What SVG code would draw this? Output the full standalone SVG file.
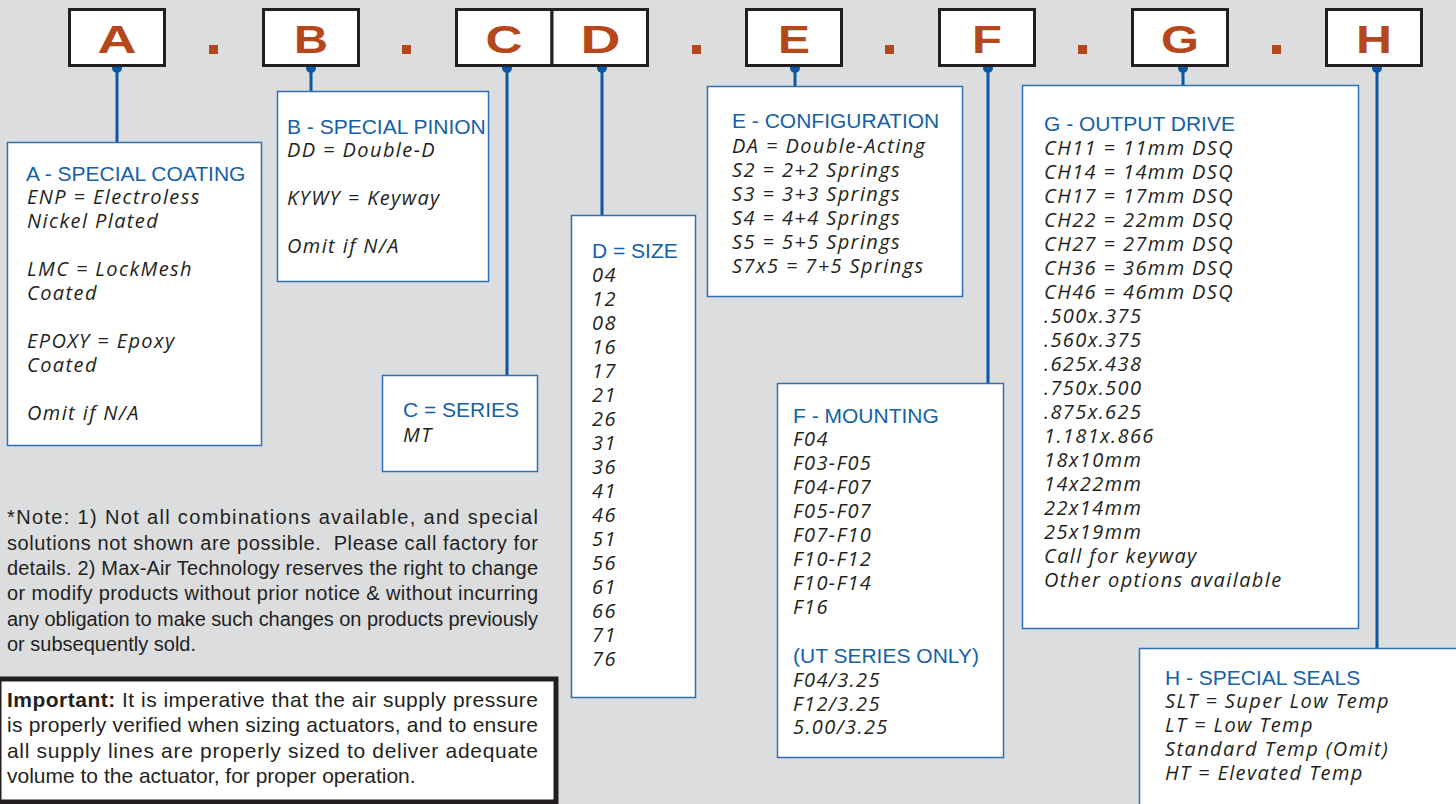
<svg xmlns="http://www.w3.org/2000/svg" width="1456" height="804" viewBox="0 0 1456 804">
<style>
.key{fill:#fff;stroke:#231f20;stroke-width:3}
.let{font-family:"Liberation Sans",Arial,sans-serif;font-weight:bold;font-size:39px;fill:#b5471b;text-anchor:middle}
.dot{fill:#b5471b}
.box{fill:#fff;stroke:#2f6fb5;stroke-width:1.5}
.ttl{font-family:"Liberation Sans",Arial,sans-serif;font-size:21px;fill:#1560a8}
.itm{font-family:"Open Sans","Noto Sans",sans-serif;font-style:italic;font-size:20px;letter-spacing:1.4px;fill:#231f20}
.note{font-family:"Liberation Sans",Arial,sans-serif;font-size:20px;fill:#231f20}
.imp{font-family:"Liberation Sans",Arial,sans-serif;font-size:21px;fill:#231f20}
.con line{stroke:#0b57a4;stroke-width:3}
.con circle{fill:#0b57a4}
</style>
<rect x="0" y="0" width="1456" height="804" fill="#dcdddf"/>

<g id="connectors" class="con">
<line x1="117" y1="68" x2="117" y2="142"/><circle cx="117" cy="68" r="5"/>
<line x1="311" y1="68" x2="311" y2="91"/><circle cx="311" cy="68" r="5"/>
<line x1="507" y1="68" x2="507" y2="375"/><circle cx="507" cy="68" r="5"/>
<line x1="602" y1="68" x2="602" y2="215"/><circle cx="602" cy="68" r="5"/>
<line x1="795" y1="68" x2="795" y2="86"/><circle cx="795" cy="68" r="5"/>
<line x1="988" y1="68" x2="988" y2="383"/><circle cx="988" cy="68" r="5"/>
<line x1="1183" y1="68" x2="1183" y2="85"/><circle cx="1183" cy="68" r="5"/>
<line x1="1377" y1="68" x2="1377" y2="648"/><circle cx="1377" cy="68" r="5"/>
</g>

<g id="key-A"><rect class="key" x="69.5" y="9.5" width="95" height="56"/><text class="let" x="117" y="53" textLength="39" lengthAdjust="spacingAndGlyphs">A</text></g>
<rect class="dot" x="209" y="45" width="9" height="9"/>
<g id="key-B"><rect class="key" x="263.5" y="9.5" width="95" height="56"/><text class="let" x="311" y="53" textLength="34" lengthAdjust="spacingAndGlyphs">B</text></g>
<rect class="dot" x="402" y="45" width="9" height="9"/>
<g id="key-C"><rect class="key" x="456.5" y="9.5" width="95.5" height="56"/><text class="let" x="504" y="53" textLength="37" lengthAdjust="spacingAndGlyphs">C</text></g>
<g id="key-D"><rect class="key" x="552" y="9.5" width="95.5" height="56"/><text class="let" x="600.5" y="53" textLength="40" lengthAdjust="spacingAndGlyphs">D</text></g>
<rect class="dot" x="692" y="45" width="9" height="9"/>
<g id="key-E"><rect class="key" x="746.5" y="9.5" width="95" height="56"/><text class="let" x="794" y="53" textLength="32" lengthAdjust="spacingAndGlyphs">E</text></g>
<rect class="dot" x="885" y="45" width="9" height="9"/>
<g id="key-F"><rect class="key" x="939.5" y="9.5" width="95" height="56"/><text class="let" x="987" y="53" textLength="30" lengthAdjust="spacingAndGlyphs">F</text></g>
<rect class="dot" x="1078" y="45" width="9" height="9"/>
<g id="key-G"><rect class="key" x="1132.5" y="9.5" width="95" height="56"/><text class="let" x="1180" y="53" textLength="38" lengthAdjust="spacingAndGlyphs">G</text></g>
<rect class="dot" x="1272" y="45" width="9" height="9"/>
<g id="key-H"><rect class="key" x="1326.5" y="9.5" width="95" height="56"/><text class="let" x="1374" y="53" textLength="36" lengthAdjust="spacingAndGlyphs">H</text></g>

<g id="desc-A">
<rect class="box" x="7.5" y="142.5" width="254" height="303"/>
<text class="ttl" x="26" y="181">A - SPECIAL COATING</text>
<text class="itm" x="27" y="204">ENP = Electroless</text>
<text class="itm" x="27" y="228">Nickel Plated</text>
<text class="itm" x="27" y="276">LMC = LockMesh</text>
<text class="itm" x="27" y="300">Coated</text>
<text class="itm" x="27" y="348">EPOXY = Epoxy</text>
<text class="itm" x="27" y="372">Coated</text>
<text class="itm" x="27" y="420">Omit if N/A</text>
</g>

<g id="desc-B">
<rect class="box" x="277.5" y="91.5" width="211" height="190"/>
<text class="ttl" x="287" y="134">B - SPECIAL PINION</text>
<text class="itm" x="287" y="157">DD = Double-D</text>
<text class="itm" x="287" y="205">KYWY = Keyway</text>
<text class="itm" x="287" y="253">Omit if N/A</text>
</g>

<g id="desc-C">
<rect class="box" x="382.5" y="375.5" width="155" height="96"/>
<text class="ttl" x="403" y="417">C = SERIES</text>
<text class="itm" x="403" y="442">MT</text>
</g>

<g id="desc-D">
<rect class="box" x="571.5" y="215.5" width="124" height="482"/>
<text class="ttl" x="592" y="258">D = SIZE</text>
<text class="itm" x="592" y="282">04</text>
<text class="itm" x="592" y="306">12</text>
<text class="itm" x="592" y="330">08</text>
<text class="itm" x="592" y="354">16</text>
<text class="itm" x="592" y="378">17</text>
<text class="itm" x="592" y="402">21</text>
<text class="itm" x="592" y="426">26</text>
<text class="itm" x="592" y="450">31</text>
<text class="itm" x="592" y="474">36</text>
<text class="itm" x="592" y="498">41</text>
<text class="itm" x="592" y="522">46</text>
<text class="itm" x="592" y="546">51</text>
<text class="itm" x="592" y="570">56</text>
<text class="itm" x="592" y="594">61</text>
<text class="itm" x="592" y="618">66</text>
<text class="itm" x="592" y="642">71</text>
<text class="itm" x="592" y="666">76</text>
</g>

<g id="desc-E">
<rect class="box" x="707.5" y="86.5" width="255" height="210"/>
<text class="ttl" x="732" y="128">E - CONFIGURATION</text>
<text class="itm" x="732" y="153">DA = Double-Acting</text>
<text class="itm" x="732" y="177">S2 = 2+2 Springs</text>
<text class="itm" x="732" y="201">S3 = 3+3 Springs</text>
<text class="itm" x="732" y="225">S4 = 4+4 Springs</text>
<text class="itm" x="732" y="249">S5 = 5+5 Springs</text>
<text class="itm" x="732" y="273">S7x5 = 7+5 Springs</text>
</g>

<g id="desc-F">
<rect class="box" x="777.5" y="383.5" width="226" height="374"/>
<text class="ttl" x="793" y="423">F - MOUNTING</text>
<text class="itm" x="793" y="446">F04</text>
<text class="itm" x="793" y="470">F03-F05</text>
<text class="itm" x="793" y="494">F04-F07</text>
<text class="itm" x="793" y="518">F05-F07</text>
<text class="itm" x="793" y="542">F07-F10</text>
<text class="itm" x="793" y="566">F10-F12</text>
<text class="itm" x="793" y="590">F10-F14</text>
<text class="itm" x="793" y="614">F16</text>
<text class="ttl" x="793" y="663">(UT SERIES ONLY)</text>
<text class="itm" x="793" y="687">F04/3.25</text>
<text class="itm" x="793" y="711">F12/3.25</text>
<text class="itm" x="793" y="734">5.00/3.25</text>
</g>

<g id="desc-G">
<rect class="box" x="1022.5" y="85.5" width="336" height="543"/>
<text class="ttl" x="1044" y="131">G - OUTPUT DRIVE</text>
<text class="itm" x="1044" y="155">CH11 = 11mm DSQ</text>
<text class="itm" x="1044" y="179">CH14 = 14mm DSQ</text>
<text class="itm" x="1044" y="203">CH17 = 17mm DSQ</text>
<text class="itm" x="1044" y="227">CH22 = 22mm DSQ</text>
<text class="itm" x="1044" y="251">CH27 = 27mm DSQ</text>
<text class="itm" x="1044" y="275">CH36 = 36mm DSQ</text>
<text class="itm" x="1044" y="299">CH46 = 46mm DSQ</text>
<text class="itm" x="1044" y="323">.500x.375</text>
<text class="itm" x="1044" y="347">.560x.375</text>
<text class="itm" x="1044" y="371">.625x.438</text>
<text class="itm" x="1044" y="395">.750x.500</text>
<text class="itm" x="1044" y="419">.875x.625</text>
<text class="itm" x="1044" y="443">1.181x.866</text>
<text class="itm" x="1044" y="467">18x10mm</text>
<text class="itm" x="1044" y="491">14x22mm</text>
<text class="itm" x="1044" y="515">22x14mm</text>
<text class="itm" x="1044" y="539">25x19mm</text>
<text class="itm" x="1044" y="563">Call for keyway</text>
<text class="itm" x="1044" y="587">Other options available</text>
</g>

<g id="desc-H">
<rect class="box" x="1139.5" y="648.5" width="330" height="170"/>
<text class="ttl" x="1165" y="685">H - SPECIAL SEALS</text>
<text class="itm" x="1165" y="708">SLT = Super Low Temp</text>
<text class="itm" x="1165" y="732">LT = Low Temp</text>
<text class="itm" x="1165" y="756">Standard Temp (Omit)</text>
<text class="itm" x="1165" y="780">HT = Elevated Temp</text>
</g>

<g id="note">
<text class="note" x="7" y="524" textLength="531" lengthAdjust="spacing">*Note: 1) Not all combinations available, and special</text>
<text class="note" x="7" y="550" textLength="531" lengthAdjust="spacing" xml:space="preserve">solutions not shown are possible.  Please call factory for</text>
<text class="note" x="7" y="575" textLength="531" lengthAdjust="spacing">details. 2) Max-Air Technology reserves the right to change</text>
<text class="note" x="7" y="600" textLength="531" lengthAdjust="spacing">or modify products without prior notice &amp; without incurring</text>
<text class="note" x="7" y="626" textLength="531" lengthAdjust="spacing">any obligation to make such changes on products previously</text>
<text class="note" x="7" y="651">or subsequently sold.</text>
</g>

<g id="important">
<rect x="-1" y="679" width="557" height="123" fill="#fff" stroke="#231f20" stroke-width="5"/>
<text class="imp" x="7" y="707" textLength="531" lengthAdjust="spacing"><tspan font-weight="bold">Important:</tspan> It is imperative that the air supply pressure</text>
<text class="imp" x="7" y="732" textLength="531" lengthAdjust="spacing">is properly verified when sizing actuators, and to ensure</text>
<text class="imp" x="7" y="758" textLength="531" lengthAdjust="spacing">all supply lines are properly sized to deliver adequate</text>
<text class="imp" x="7" y="783">volume to the actuator, for proper operation.</text>
</g>
</svg>
